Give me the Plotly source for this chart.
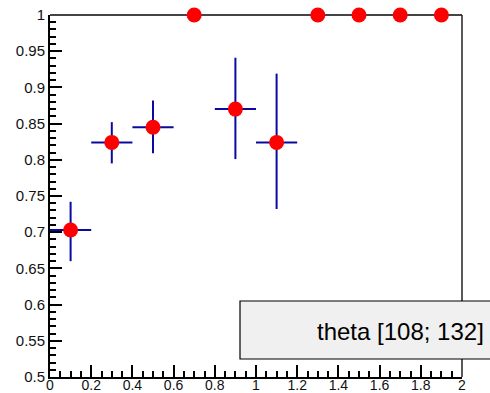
import plotly.graph_objects as go

# ---- data ----
x_vals = [0.1, 0.3, 0.5, 0.7, 0.9, 1.1, 1.3, 1.5, 1.7, 1.9]
y_vals = [0.703, 0.824, 0.845, 1.0, 0.870, 0.824, 1.0, 1.0, 1.0, 1.0]
err_y_hi = [0.039, 0.028, 0.037, 0.0, 0.071, 0.095, 0.0, 0.0, 0.0, 0.0]
err_y_lo = [0.043, 0.029, 0.036, 0.0, 0.069, 0.092, 0.0, 0.0, 0.0, 0.0]
err_x = [0.1, 0.1, 0.1, 0.0, 0.1, 0.1, 0.0, 0.0, 0.0, 0.0]
label_text = "theta [108; 132]"

W, H = 490, 393
L, R, T, B = 50, 28, 15, 16
pw, ph = W - L - R, H - T - B


def px_x(p):
    return (p - L) / pw


def px_y(p):
    return (H - B - p) / ph


fig = go.Figure()
fig.add_trace(go.Scatter(
    x=x_vals, y=y_vals, mode="markers",
    marker=dict(color="#ff0000", size=15, line=dict(width=0)),
    error_y=dict(type="data", symmetric=False, array=err_y_hi, arrayminus=err_y_lo,
                 color="#0a0aa0", thickness=2, width=0),
    error_x=dict(type="data", array=err_x, color="#0a0aa0", thickness=2, width=0),
    cliponaxis=False, showlegend=False, hoverinfo="skip",
))

ytickfont = dict(family="Liberation Sans, Arial, sans-serif", size=15, color="#111111")
xtickfont = dict(family="Liberation Sans, Arial, sans-serif", size=14, color="#111111")

fig.update_layout(
    width=W, height=H,
    margin=dict(l=L, r=R, t=T, b=B, pad=0, autoexpand=False),
    paper_bgcolor="white", plot_bgcolor="white",
    xaxis=dict(range=[0, 2], showgrid=False, zeroline=False, automargin=False,
               showline=True, linecolor="black", linewidth=2,
               ticks="inside", ticklen=12, tickwidth=1.5, tickcolor="black",
               dtick=0.2, tick0=0, tickfont=xtickfont, tickformat="~g",
               ticklabelstandoff=-6,
               minor=dict(ticks="inside", ticklen=6, dtick=0.05, tickcolor="black", tickwidth=1.5)),
    yaxis=dict(range=[0.5, 1], showgrid=False, zeroline=False, automargin=False,
               showline=True, linecolor="black", linewidth=2,
               ticks="inside", ticklen=12, tickwidth=1.5, tickcolor="black",
               dtick=0.05, tick0=0.5, tickfont=ytickfont, tickformat="~g",
               ticklabelstandoff=0,
               minor=dict(ticks="inside", ticklen=6, dtick=0.01, tickcolor="black", tickwidth=1.5)),
    shapes=[
        dict(type="line", xref="paper", yref="paper", x0=0, x1=1, y0=1, y1=1,
             line=dict(color="#444444", width=2), layer="below"),
        dict(type="line", xref="paper", yref="paper", x0=1, x1=1, y0=0, y1=1,
             line=dict(color="#222222", width=1.5), layer="below"),
        dict(type="rect", xref="paper", yref="paper",
             x0=px_x(240), x1=px_x(493), y0=px_y(359), y1=px_y(301),
             line=dict(color="black", width=1.2), fillcolor="#f0f0f0", layer="above"),
    ],
    annotations=[
        dict(text=label_text, xref="paper", yref="paper",
             x=px_x(486), y=px_y(331), xanchor="right", yanchor="middle",
             showarrow=False,
             font=dict(family="Liberation Sans, Arial, sans-serif", size=24, color="black")),
    ],
)

fig.write_html(
    "out.html",
    config={"displayModeBar": False},
    post_script="document.body.style.margin='0';document.body.style.overflow='hidden';",
)
